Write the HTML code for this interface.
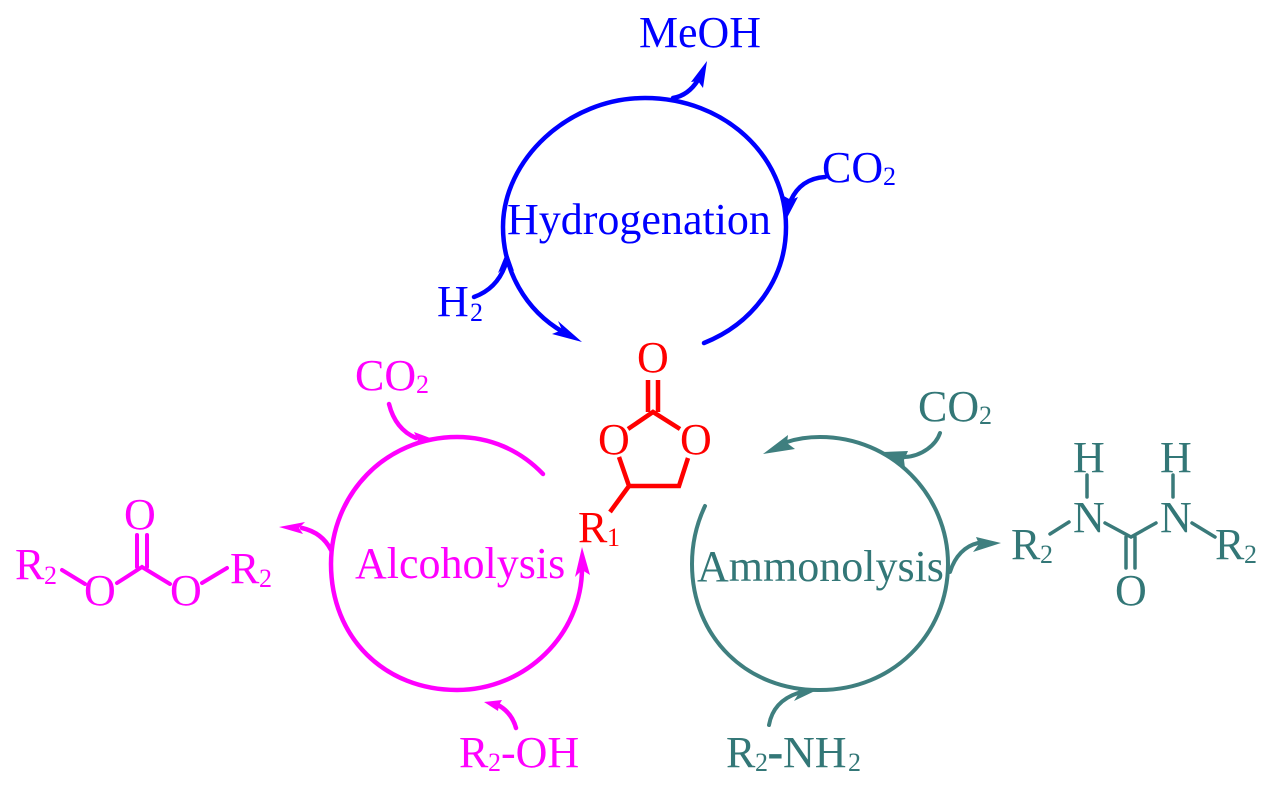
<!DOCTYPE html>
<html><head><meta charset="utf-8"><style>
html,body{margin:0;padding:0;background:#fff;width:1271px;height:787px;overflow:hidden}
svg{display:block}
text{font-family:"Liberation Serif",serif;font-size:44px}
.s{font-size:26px}
</style></head><body>
<svg width="1271" height="787" viewBox="0 0 1271 787" xmlns="http://www.w3.org/2000/svg">
<!-- Hydrogenation -->
<g fill="#0000ff" stroke="none">
<text x="639" y="47" textLength="122" lengthAdjust="spacingAndGlyphs">MeOH</text>
<text x="507" y="234">Hydrogenation</text>
<text x="822" y="182">CO</text><text x="883" y="185" class="s">2</text>
<text x="437" y="316">H</text><text x="470" y="321" class="s">2</text>
<polygon points="707,61 703,88 698,81 691,82"/>
<polygon points="787,218 798,197 791,200 782,195"/>
<polygon points="507,251 498,273 506,266 514,271"/>
<polygon points="582,342 558,321 562,330 552,334"/>
</g>
<g fill="none" stroke="#0000ff" stroke-width="4.5" stroke-linecap="round">
<path d="M704,343 C752,324 786,280 786,227 C786,156 725,98 645,98 C568,98 503,160 503,227 C503,270 525,310 563,332"/>
<path d="M673,98 C685,96 693,88 698,80"/>
<path d="M825,177 C808,178 797,187 791,200"/>
<path d="M474,297 C488,292 499,282 505,266"/>
</g>
<!-- Central -->
<g fill="#ff0000" stroke="none">
<text x="637" y="372">O</text>
<text x="598" y="454">O</text>
<text x="680" y="454">O</text>
<text x="578" y="542">R</text><text x="607" y="546" class="s">1</text>
</g>
<g fill="none" stroke="#ff0000" stroke-width="4.5">
<path d="M648,380V412M658,380V412"/>
<path d="M628,429L653,412L680,429"/>
<path d="M619,457L629,486H679L688,458"/>
<path d="M629,486L610,512"/>
</g>
<!-- Alcoholysis -->
<g fill="#ff00ff" stroke="none">
<text x="355" y="390">CO</text><text x="416" y="393" class="s">2</text>
<text x="355" y="578">Alcoholysis</text>
<text x="459" y="767">R</text><text x="488" y="771" class="s">2</text><text x="501" y="767">-OH</text>
<text x="15" y="579">R</text><text x="44" y="584" class="s">2</text>
<text x="124" y="529">O</text>
<text x="84" y="605">O</text>
<text x="170" y="605">O</text>
<text x="230" y="583">R</text><text x="259" y="587" class="s">2</text>
<polygon points="279,527 305,522 299,528 303,534"/>
<polygon points="433,439 414,432 418,440 410,448"/>
<polygon points="582,547 575,577 582,570 590,575"/>
<polygon points="484,702 502,700 499,705 498,711"/>
</g>
<g fill="none" stroke="#ff00ff" stroke-width="4.5" stroke-linecap="round">
<path d="M543,474 C520,450 490,437 457,437 C385,437 331,495 331,564 C331,638 385,690 457,690 C525,690 582,635 582,568"/>
<path d="M331,550 C325,538 315,531 302,528"/>
<path d="M389,404 C393,420 402,432 416,438"/>
<path d="M516,728 C513,717 507,710 498,705"/>
</g>
<g fill="none" stroke="#ff00ff" stroke-width="4" stroke-linecap="round">
<path d="M62,570L85,584M137,535V567M147,535V567M117,583L142,567L170,584M202,583L227,568"/>
</g>
<!-- Ammonolysis -->
<g fill="#337777" stroke="none">
<text x="918" y="421">CO</text><text x="979" y="424" class="s">2</text>
<text x="697" y="581">Ammonolysis</text>
<text x="726" y="767">R</text><text x="755" y="771" class="s">2</text><text x="768" y="767" stroke="#337777" stroke-width="1">-</text><text x="783" y="767">NH</text><text x="848" y="771" class="s">2</text>
<text x="1073" y="472">H</text>
<text x="1160" y="472">H</text>
<text x="1073" y="532">N</text>
<text x="1160" y="532">N</text>
<text x="1011" y="559">R</text><text x="1040" y="563" class="s">2</text>
<text x="1215" y="559">R</text><text x="1244" y="563" class="s">2</text>
<text x="1115" y="605">O</text>
</g>
<g fill="#3f7f7f" stroke="none">
<polygon points="763,454 788,435 787,443 795,449"/>
<polygon points="883,452 908,451 904,460 905,468"/>
<polygon points="1001,543 976,537 979,544 973,552"/>
<polygon points="817,690 797,687 799,693 794,701"/>
</g>
<g fill="none" stroke="#3f7f7f" stroke-width="4" stroke-linecap="round">
<path d="M705,506 C696,525 692,545 692,564 C692,638 748,691 820,690 C892,690 948,635 948,564 C948,495 892,437 820,437 C808,437 796,439 787,442"/>
<path d="M940,433 C936,445 922,456 905,457"/>
<path d="M950,572 C955,556 965,546 978,543"/>
<path d="M769,725 C772,708 783,698 798,693"/>
</g>
<g fill="none" stroke="#3a7a7a" stroke-width="3.5" stroke-linecap="round">
<path d="M1050,534L1069,522M1087,475V497M1173,475V497M1105,523L1131,537L1156,523M1192,523L1215,537M1126,537V568M1135,537V568"/>
</g>
</svg>
</body></html>
